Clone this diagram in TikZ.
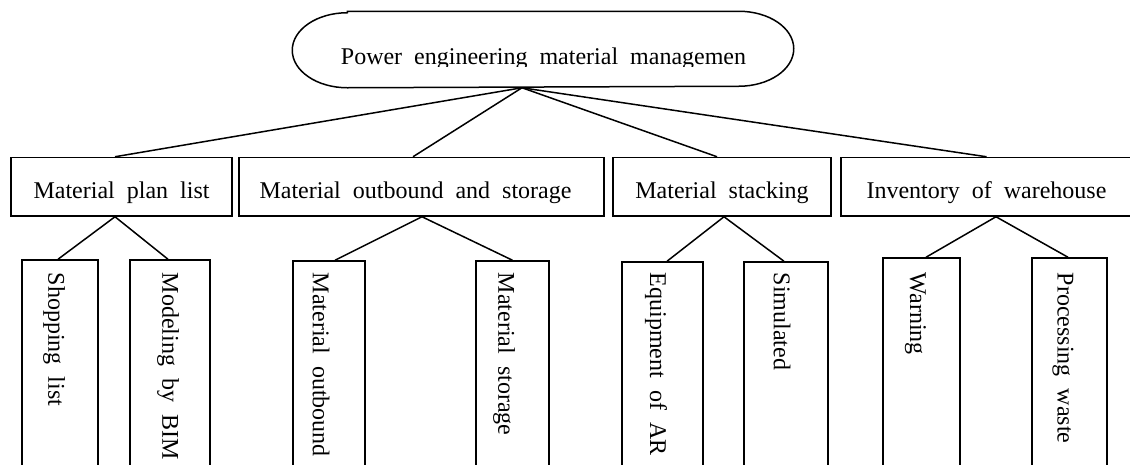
\documentclass[tikz,border=0pt]{standalone}
\usepackage{fontspec}
\setmainfont{Liberation Serif}[WordSpace=2]
\usetikzlibrary{calc}
\begin{document}
\begin{tikzpicture}[x=1pt,y=-1pt, line width=1.5pt,
  txt/.style={font=\fontsize{24}{28}\selectfont},
  lvl/.style={draw, rectangle, inner sep=0pt, txt, text height=23pt, text depth=0pt, minimum height=58.5pt},
  leaf/.style={draw, rectangle, inner sep=0pt},
  vtext/.style={txt, rotate=-90, anchor=west, inner sep=0pt},
  link/.style={line width=1.5pt}]
\useasboundingbox (0,0) rectangle (1130,464);
\clip (0,0) rectangle (1130,464);

% root
\node[rectangle, inner sep=0pt, minimum width=500pt, minimum height=75pt] (root) at (543,49.5) {};
\draw ($(root.north west)+(55,0)$) -- ($(root.north east)+(-55,0)$)
  arc[start angle=90, end angle=-90, x radius=55pt, y radius=37.5pt]
  -- ($(root.south west)+(55,0)$)
  arc[start angle=270, end angle=90, x radius=55pt, y radius=37.5pt] -- cycle;
\begin{scope}
  \clip (290,0) rectangle (800,66);
  \node[txt, anchor=base, inner sep=0pt] (rt) at (543.5,64) {Power engineering material managemen};
\end{scope}
\coordinate (rj) at ($(root.south)+(-21,0)$);

% level 1
\node[lvl, minimum width=221pt] (b1) at (121.5,186.75) {Material plan list};
\node[lvl, minimum width=365pt] (b2) at (421.5,186.75) {Material outbound and storage\rule{12pt}{0pt}};
\node[lvl, minimum width=218pt] (b3) at (722,186.75) {Material stacking};
\node[lvl, minimum width=291pt] (b4) at (986.5,186.75) {Inventory of warehouse};

% leaves
\node[leaf, minimum width=76pt, minimum height=220pt] (l1) at (60,370) {};
\node[leaf, minimum width=80pt, minimum height=220pt] (l2) at (170,370) {};
\node[leaf, minimum width=72pt, minimum height=219pt] (l3) at (329,370.5) {};
\node[leaf, minimum width=73pt, minimum height=219pt] (l4) at (512.5,370.5) {};
\node[leaf, minimum width=81pt, minimum height=218pt] (l5) at (662.5,371) {};
\node[leaf, minimum width=84pt, minimum height=218pt] (l6) at (786,371) {};
\node[leaf, minimum width=77pt, minimum height=222pt] (l7) at (921.5,369) {};
\node[leaf, minimum width=75pt, minimum height=222pt] (l8) at (1069.5,369) {};

\node[vtext] (t1) at (54,272) {Shopping list};
\node[vtext] (t2) at (168,272) {Modeling by BIM};
\node[vtext] (t3) at (321,272) {Material outbound};
\node[vtext] (t4) at (504,272) {Material storage};
\node[vtext] (t5) at (656,272) {Equipment of AR};
\node[vtext] (t6) at (782,272) {Simulated};
\node[vtext] (t7) at (915.5,272) {Warning};
\node[vtext] (t8) at (1063,272) {Processing waste};

% connectors root -> level 1
\draw[link] (rj) -- ($(b1.north)+(-6.5,0)$);
\draw[link] (rj) -- ($(b2.north)+(-8.5,0)$);
\draw[link] (rj) -- ($(b3.north)+(-5,0)$);
\draw[link] (rj) -- (b4.north);

% level 1 -> leaves
\draw[link] ($(b1.south)+(-6.5,0)$) -- ($(l1.north)+(-2,0)$);
\draw[link] ($(b1.south)+(-6.5,0)$) -- ($(l2.north)+(-2,0)$);
\draw[link] ($(b2.south)+(0.5,0)$) -- ($(l3.north)+(6,0)$);
\draw[link] ($(b2.south)+(0.5,0)$) -- (l4.north);
\draw[link] ($(b3.south)+(2,0)$) -- ($(l5.north)+(4.5,0)$);
\draw[link] ($(b3.south)+(2,0)$) -- ($(l6.north)+(-2,0)$);
\draw[link] ($(b4.south)+(9.5,0)$) -- ($(l7.north)+(4.5,0)$);
\draw[link] ($(b4.south)+(9.5,0)$) -- ($(l8.north)+(-1.5,0)$);
\end{tikzpicture}
\end{document}
